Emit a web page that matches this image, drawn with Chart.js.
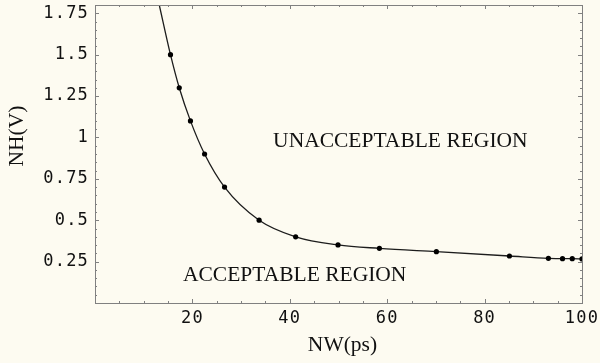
<!DOCTYPE html>
<html><head><meta charset="utf-8">
<script src="https://cdn.jsdelivr.net/npm/chart.js@4"></script>
<style>html,body{margin:0;padding:0;background:#fdfbf1;}#wrap{width:600px;height:363px;}</style>
</head><body><div id="wrap"><canvas id="c" width="600" height="363"></canvas></div>
<script>
// Measured points (NW in ps, NH in V)
const nwValues = [15.5, 17.3, 19.6, 22.5, 26.6, 33.7, 41.2, 49.9, 58.4, 70.1, 85.1, 93.1, 96.0, 98.0, 100];
const nhValues = [1.5, 1.3, 1.1, 0.9, 0.7, 0.5, 0.4, 0.351, 0.330, 0.310, 0.284, 0.270, 0.268, 0.268, 0.266];
// Fitted curve (starts at the top edge)
const curveNW = [13.2, 15.5, 17.3, 19.6, 22.5, 26.6, 33.7, 41.2, 49.9, 58.4, 70.1, 85.1, 93.1, 96.0, 98.0, 100];
const curveNH = [1.8, 1.5, 1.3, 1.1, 0.9, 0.7, 0.5, 0.4, 0.351, 0.330, 0.310, 0.284, 0.270, 0.268, 0.268, 0.266];
// Ticks
const xTickValues = [20, 40, 60, 80, 100];
const xTickLabels = ['20', '40', '60', '80', '100'];
const yTickValues = [0.25, 0.5, 0.75, 1, 1.25, 1.5, 1.75];
const yTickLabels = ['0.25', '0.5', '0.75', '1', '1.25', '1.5', '1.75'];
// Region annotations
const regionLabels = ['UNACCEPTABLE REGION', 'ACCEPTABLE REGION'];
const regionNW = [62.7, 41.0];
const regionNH = [0.976, 0.165];
const xTitle = 'NW(ps)';
const yTitle = 'NH(V)';

const BG = '#fdfbf1';
const FRAME = '#808080';
const TXT = '#111111';

const framePlugin = {
  id: 'frame',
  beforeDraw(chart) {
    const ctx = chart.ctx;
    ctx.save();
    ctx.fillStyle = BG;
    ctx.fillRect(0, 0, chart.width, chart.height);
    ctx.restore();
    ctx.letterSpacing = '1.2px';
  },
  afterDraw(chart) {
    const ctx = chart.ctx;
    ctx.letterSpacing = '0px';
    const a = chart.chartArea;
    const xs = chart.scales.x, ys = chart.scales.y;
    ctx.save();
    ctx.strokeStyle = FRAME;
    ctx.lineWidth = 1;
    ctx.strokeRect(Math.round(a.left) + 0.5, Math.round(a.top) + 0.5, Math.round(a.right - a.left), Math.round(a.bottom - a.top));
    // inward ticks on all four sides
    ctx.beginPath();
    for (let v = 5; v < 100; v += 5) {
      const len = (v % 20 === 0) ? 4 : 2;
      const px = Math.round(xs.getPixelForValue(v)) + 0.5;
      ctx.moveTo(px, a.bottom); ctx.lineTo(px, a.bottom - len);
      ctx.moveTo(px, a.top); ctx.lineTo(px, a.top + len);
    }
    for (let i = 1; i < 36; i++) {
      const v = i * 0.05;
      const len = (i % 5 === 0) ? 4 : 2;
      const py = Math.round(ys.getPixelForValue(v)) + 0.5;
      ctx.moveTo(a.left, py); ctx.lineTo(a.left + len, py);
      ctx.moveTo(a.right, py); ctx.lineTo(a.right - len, py);
    }
    ctx.stroke();
    // region labels
    ctx.fillStyle = TXT;
    ctx.font = '21.5px "Liberation Serif"';
    ctx.textAlign = 'center';
    ctx.textBaseline = 'middle';
    regionLabels.forEach((t, i) => {
      ctx.fillText(t, xs.getPixelForValue(regionNW[i]), ys.getPixelForValue(regionNH[i]));
    });
    // axis titles
    ctx.fillText(xTitle, (a.left + a.right) / 2 + 4, 345);
    ctx.translate(17.5, 136);
    ctx.rotate(-Math.PI / 2);
    ctx.fillText(yTitle, 0, 0);
    ctx.restore();
  }
};

new Chart(document.getElementById('c').getContext('2d'), {
  type: 'scatter',
  data: {
    datasets: [
      {
        data: curveNW.map((x, i) => ({ x, y: curveNH[i] })),
        showLine: true, pointRadius: 0, borderColor: '#1c1c1c', borderWidth: 1.3,
        cubicInterpolationMode: 'monotone', order: 2
      },
      {
        data: nwValues.map((x, i) => ({ x, y: nhValues[i] })),
        showLine: false, pointRadius: 2.6, pointBackgroundColor: '#000', pointBorderWidth: 0,
        pointBorderColor: '#000', order: 1
      }
    ]
  },
  options: {
    responsive: false, animation: false, devicePixelRatio: 1,
    layout: { padding: { left: 0, right: 18, top: 5, bottom: 0 } },
    plugins: { legend: { display: false }, tooltip: { enabled: false } },
    scales: {
      x: {
        type: 'linear', min: 0, max: 100,
        afterBuildTicks: s => { s.ticks = xTickValues.map(v => ({ value: v })); },
        afterFit: s => { s.height = 60; s.paddingLeft = 0; s.paddingRight = 0; },
        grid: { display: false, drawTicks: false },
        border: { display: false },
        ticks: {
          padding: 5, maxRotation: 0, autoSkip: false, color: TXT,
          font: { family: 'DejaVu Sans Mono', size: 17 },
          callback: v => xTickLabels[xTickValues.indexOf(v)]
        }
      },
      y: {
        type: 'linear', min: 0, max: 1.8,
        afterBuildTicks: s => { s.ticks = yTickValues.map(v => ({ value: v })); },
        afterFit: s => { s.width = 95; s.paddingTop = 0; s.paddingBottom = 0; },
        grid: { display: false, drawTicks: false },
        border: { display: false },
        ticks: {
          padding: 6, autoSkip: false, color: TXT,
          font: { family: 'DejaVu Sans Mono', size: 17 },
          callback: v => yTickLabels[yTickValues.indexOf(v)]
        }
      }
    }
  },
  plugins: [framePlugin]
});
</script>
</body></html>
